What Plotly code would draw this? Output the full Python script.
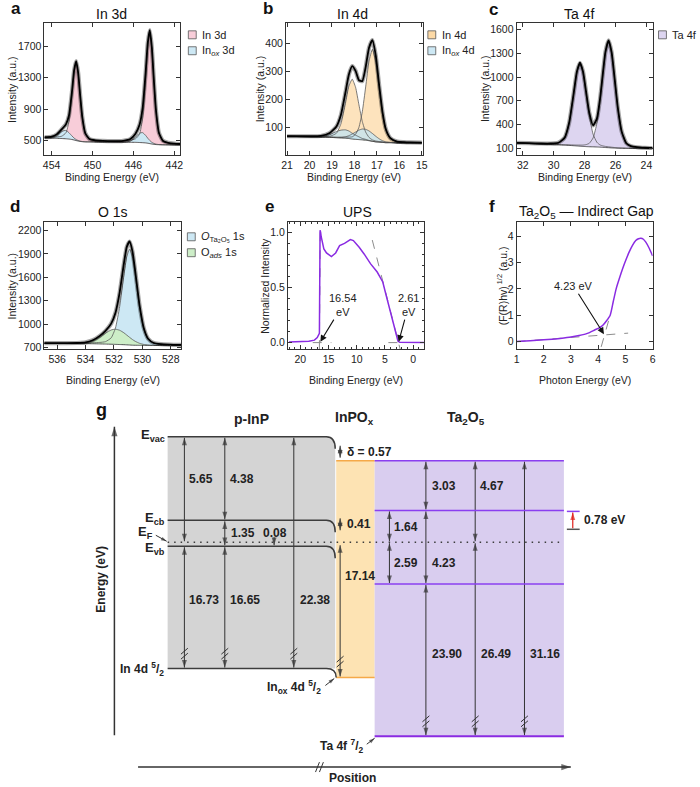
import plotly.graph_objects as go

FONT = "Liberation Sans, Arial, Helvetica, sans-serif"
W, H = 700, 787

# ============================== DATA ==============================
# (a) In 3d core level (binding energy, eV / intensity, a.u.)
a_be = [454.7, 454.0, 453.5, 453.0, 452.6, 452.3, 452.0, 451.8, 451.6, 451.4,
        451.2, 451.0, 450.7, 450.3, 449.8, 449.0, 448.0, 447.0, 446.3, 445.8,
        445.4, 445.1, 444.8, 444.6, 444.4, 444.2, 444.0, 443.8, 443.5, 443.1,
        442.6, 442.0, 441.4]
a_bg = [530, 528, 526, 523, 520, 516, 510, 504, 497, 491,
        486, 483, 481, 480, 479, 478, 477, 476, 475, 474,
        472, 470, 467, 463, 458, 453, 449, 446, 444, 443,
        442, 442, 442]
a_in3d = [8, 11, 17, 30, 76, 221, 575, 863, 1002, 864,
          576, 315, 107, 38, 22, 15, 12, 17, 26, 45,
          107, 312, 810, 1215, 1410, 1215, 810, 442, 148, 49,
          27, 16, 11]
a_inox = [1, 7, 33, 90, 108, 80, 45, 25, 13, 7,
          4, 2, 0, 0, 0, 0, 0, 1, 15, 65,
          120, 128, 95, 65, 40, 22, 12, 6, 2, 0,
          0, 0, 0]

# (b) In 4d
b_be = [21.0, 20.5, 20.0, 19.5, 19.1, 18.8, 18.6, 18.4, 18.25, 18.1,
        17.95, 17.8, 17.65, 17.5, 17.35, 17.2, 17.05, 16.9, 16.75, 16.6,
        16.4, 16.1, 15.8, 15.5, 15.0]
b_bg = [68, 67, 66, 65, 64, 63, 62, 61, 60, 58,
        57, 56, 55, 54, 52, 50, 48, 47, 46, 45,
        45, 44, 44, 44, 44]
b_in4d_32 = [0, 1, 1, 2, 4, 16, 51, 125, 187, 215,
             187, 125, 66, 29, 12, 5, 3, 2, 2, 1,
             1, 1, 0, 0, 0]
b_in4d_52 = [0, 0, 1, 1, 2, 2, 3, 4, 5, 8,
             18, 44, 101, 191, 286, 330, 286, 191, 101, 44,
             14, 4, 3, 2, 1]
b_inox_1 = [0, 0, 0, 1, 10, 22, 28, 30, 27, 21,
            15, 10, 5, 3, 1, 0, 0, 0, 0, 0,
            0, 0, 0, 0, 0]
b_inox_2 = [0, 0, 0, 0, 0, 0, 1, 5, 10, 18,
            26, 34, 39, 39, 35, 28, 20, 12, 6, 3,
            1, 0, 0, 0, 0]

# (c) Ta 4f
c_be = [32.4, 31.6, 30.8, 30.2, 29.7, 29.3, 29.0, 28.7, 28.5, 28.3,
        28.1, 27.9, 27.7, 27.45, 27.2, 27.0, 26.8, 26.65, 26.45, 26.25,
        26.05, 25.85, 25.6, 25.3, 25.0, 24.6, 24.1, 23.6]
c_bg = [165, 158, 151, 146, 142, 139, 136, 132, 129, 126,
        123, 121, 119, 118, 116, 114, 111, 109, 107, 104,
        102, 100, 99, 98, 97, 96, 95, 95]
c_ta4f_52 = [2, 4, 6, 10, 22, 86, 280, 662, 926, 1040,
             926, 662, 390, 159, 58, 28, 18, 14, 11, 9,
             7, 6, 5, 4, 4, 3, 2, 2]
c_ta4f_72 = [1, 2, 3, 4, 5, 6, 7, 9, 11, 14,
             17, 25, 43, 112, 303, 585, 949, 1197, 1345, 1197,
             857, 504, 206, 61, 26, 14, 9, 6]

# (d) O 1s
d_be = [537.0, 536.2, 535.4, 534.6, 534.0, 533.5, 533.0, 532.6, 532.2, 531.9,
        531.6, 531.3, 531.1, 530.9, 530.7, 530.5, 530.2, 529.9, 529.6, 529.2,
        528.7, 528.1, 527.1]
d_bg = [752, 751, 750, 749, 748, 747, 745, 743, 741, 739,
        737, 735, 733, 731, 729, 728, 727, 726, 726, 725,
        725, 725, 725]
d_o_ta2o5 = [2, 3, 5, 7, 8, 12, 19, 31, 81, 208,
             487, 893, 1132, 1230, 1132, 893, 487, 208, 81, 31,
             17, 11, 6]
d_o_ads = [0, 0, 0, 1, 9, 33, 84, 139, 183, 195,
           183, 152, 125, 98, 72, 50, 26, 12, 5, 1,
           0, 0, 0]

# (e) UPS
e_be = [22.0, 20.0, 18.5, 17.5, 17.0, 16.62, 16.5, 16.4, 16.3, 16.1,
        15.83, 15.36, 14.49, 13.74, 13.04, 12.17, 11.13, 10.6, 9.57, 8.7,
        7.54, 6.38, 5.39, 4.9, 4.47, 4.0, 3.48, 3.0, 2.7, 2.4,
        1.0, -1.9]
e_int = [0.005, 0.008, 0.012, 0.022, 0.045, 0.085, 1.02, 1.0, 0.96, 0.9,
         0.85, 0.813, 0.78, 0.813, 0.879, 0.90, 0.934, 0.925, 0.865, 0.804,
         0.714, 0.64, 0.55, 0.45, 0.37, 0.27, 0.17, 0.07, 0.015, 0.003,
         0.0, 0.0]
e_cutoff = [16.54, 2.61]
e_sec_edge_be = [16.62, 16.47]
e_sec_edge_int = [-0.06, 1.0]
e_sec_base_be = [17.8, 14.5]
e_vb_edge_be = [7.25, 2.3]
e_vb_edge_int = [0.93, -0.062]
e_vb_base_be = [4.4, 1.2]
e_base_int = [0.0, 0.0]

# (f) Ta2O5 Tauc plot (indirect)
f_hv = [1.0, 1.5, 2.0, 2.3, 2.6, 3.0, 3.3, 3.6, 3.87, 4.05,
        4.18, 4.3, 4.44, 4.55, 4.66, 4.78, 4.9, 5.02, 5.14, 5.26,
        5.38, 5.48, 5.57, 5.66, 5.75, 5.87, 6.0]
f_y = [0.0, 0.03, 0.07, 0.09, 0.12, 0.17, 0.23, 0.31, 0.44, 0.53,
       0.63, 0.78, 1.0, 1.5, 2.0, 2.4, 2.77, 3.1, 3.4, 3.65,
       3.83, 3.9, 3.92, 3.88, 3.77, 3.55, 3.25]
f_base_hv = [1.0, 5.1]
f_base_y = [0.0, 0.32]
f_edge_hv = [4.11, 4.47]
f_edge_y = [-0.2, 1.11]
f_gap = 4.23
f_gap_y = 0.25

# tick values
a_xt, a_yt = [454, 450, 446, 442], [500, 900, 1300, 1700]
b_xt, b_yt = [21, 20, 19, 18, 17, 16, 15], [100, 200, 300, 400]
c_xt, c_yt = [32, 30, 28, 26, 24], [100, 400, 700, 1000, 1300, 1600]
d_xt, d_yt = [536, 534, 532, 530, 528], [700, 1000, 1300, 1600, 1900, 2200]
e_xt, e_yt = [20, 15, 10, 5, 0], [0.0, 0.5, 1.0]
f_xt, f_yt = [1, 2, 3, 4, 5, 6], [0, 1, 2, 3, 4]

# (g) energy-level diagram values (eV)
g_inp_values = [5.65, 4.38, 1.35, 0.08, 16.73, 16.65, 22.38]
g_inpox_values = [0.57, 0.41, 17.14]
g_ta2o5_values = [3.03, 4.67, 1.64, 2.59, 4.23, 23.90, 26.49, 31.16]
g_offset = 0.78

# ============================== STYLE / LAYOUT ==============================
PINK = '#f8cdd9'
BLUE = '#cde8f4'
ORANGE = '#fde3bd'
ORANGE_L = '#fcd9a6'
BLUE_A = 'rgba(196,228,240,0.8)'
LAV = '#ddd5f0'
GREEN = '#cdeec8'
PURPLE = '#8a2be2'

PANEL_BOX = {1: (40, 178, 23, 156), 2: (285, 424, 23, 156), 3: (519, 657, 23, 156),
             4: (40, 179, 223, 351), 5: (287, 425, 223, 351), 6: (519, 657, 223, 351)}
PANEL_RANGE = {1: ([454.7, 441.4], [310, 2000]), 2: ([21.05, 14.95], [0, 475]),
               3: ([32.4, 23.6], [12, 1684]), 4: ([536.9, 527.25], [677, 2311]),
               5: ([22.2, -1.9], [-0.06, 1.095]), 6: ([1, 6], [-0.29, 4.54])}
PANEL_TICKS = {1: (a_xt, a_yt), 2: (b_xt, b_yt), 3: (c_xt, c_yt),
               4: (d_xt, d_yt), 5: (e_xt, e_yt), 6: (f_xt, f_yt)}

fig = go.Figure()
shapes = []
anns = []


def ax_id(n):
    return ('x' if n == 1 else f'x{n}', 'y' if n == 1 else f'y{n}')


def xps_panel(n, be, bg, comps, fills):
    xa, ya = ax_id(n)
    common = dict(xaxis=xa, yaxis=ya, mode='lines', showlegend=False, hoverinfo='skip')
    sp = dict(shape='spline', smoothing=0.5)
    tops = [[b + c for b, c in zip(bg, comp)] for comp in comps]
    for top, fc in zip(tops, fills):
        fig.add_trace(go.Scatter(x=be, y=bg, line=dict(width=0, **sp), **common))
        fig.add_trace(go.Scatter(x=be, y=top, fill='tonexty', fillcolor=fc,
                                 line=dict(width=0, **sp), **common))
    for top in tops:
        fig.add_trace(go.Scatter(x=be, y=top, line=dict(color='#5a5a5a', width=0.8, **sp), **common))
    fig.add_trace(go.Scatter(x=be, y=bg, line=dict(color='#444', width=0.9, **sp), **common))
    env = [b + sum(c[i] for c in comps) for i, b in enumerate(bg)]
    fig.add_trace(go.Scatter(x=be, y=env, line=dict(color='rgba(0,0,0,0.35)', width=4.2, **sp), **common))
    fig.add_trace(go.Scatter(x=be, y=env, line=dict(color='#000', width=1.8, **sp), **common))


xps_panel(1, a_be, a_bg, [a_in3d, a_inox], [PINK, BLUE])
xps_panel(2, b_be, b_bg, [b_in4d_32, b_in4d_52, b_inox_1, b_inox_2], [ORANGE, ORANGE, BLUE_A, BLUE_A])
xps_panel(3, c_be, c_bg, [c_ta4f_52, c_ta4f_72], [LAV, LAV])
xps_panel(4, d_be, d_bg, [d_o_ta2o5, d_o_ads], [BLUE, GREEN])

# (e) UPS
dash = dict(color='#8c8c8c', width=1, dash='dash')
for xs, ys in [(e_sec_edge_be, e_sec_edge_int), (e_sec_base_be, e_base_int),
               (e_vb_edge_be, e_vb_edge_int), (e_vb_base_be, e_base_int)]:
    fig.add_trace(go.Scatter(x=xs, y=ys, xaxis='x5', yaxis='y5', mode='lines', line=dash,
                             showlegend=False, hoverinfo='skip'))
fig.add_trace(go.Scatter(x=e_be, y=e_int, xaxis='x5', yaxis='y5', mode='lines',
                         line=dict(color=PURPLE, width=1.5), showlegend=False, hoverinfo='skip'))

# (f) Tauc
for xs, ys in [(f_base_hv, f_base_y), (f_edge_hv, f_edge_y)]:
    fig.add_trace(go.Scatter(x=xs, y=ys, xaxis='x6', yaxis='y6', mode='lines', line=dash,
                             showlegend=False, hoverinfo='skip'))
fig.add_trace(go.Scatter(x=f_hv, y=f_y, xaxis='x6', yaxis='y6', mode='lines',
                         line=dict(color=PURPLE, width=1.5, shape='spline', smoothing=0.6),
                         showlegend=False, hoverinfo='skip'))

# overlay pixel-space axis for panel g and text
fig.add_trace(go.Scatter(x=[0], y=[0], xaxis='x7', yaxis='y7', mode='markers',
                         marker=dict(opacity=0), showlegend=False, hoverinfo='skip'))

AX_STYLE = dict(showline=True, linecolor='#333', linewidth=1, mirror='ticks', ticks='inside',
                ticklen=4, tickwidth=1, tickcolor='#333', showgrid=False, zeroline=False,
                tickfont=dict(size=10.5, color='#222', family=FONT))
lay = {}
for n, (x0, x1, y0, y1) in PANEL_BOX.items():
    xa, ya = ax_id(n)
    xr, yr = PANEL_RANGE[n]
    xt, yt = PANEL_TICKS[n]
    xk = 'xaxis' if n == 1 else f'xaxis{n}'
    yk = 'yaxis' if n == 1 else f'yaxis{n}'
    lay[xk] = dict(domain=[x0 / W, x1 / W], range=xr, anchor=ya, tickvals=xt, **AX_STYLE)
    lay[yk] = dict(domain=[1 - y1 / H, 1 - y0 / H], range=yr, anchor=xa, tickvals=yt, **AX_STYLE)
lay['yaxis5']['tickformat'] = '.1f'
lay['xaxis5']['minor'] = dict(ticks='inside', ticklen=2, tickcolor='#333', dtick=1, tick0=0)
lay['yaxis5']['minor'] = dict(ticks='inside', ticklen=2, tickcolor='#333', dtick=0.1, tick0=0)
lay['xaxis7'] = dict(domain=[0, 1], range=[0, W], visible=False, anchor='y7', fixedrange=True)
lay['yaxis7'] = dict(domain=[0, 1], range=[H, 0], visible=False, anchor='x7', fixedrange=True)


def label(x, y, s, size=12, bold=True, xa='left', ya='middle', angle=0, color='#222'):
    anns.append(dict(x=x, y=y, xref='x7', yref='y7', text=(f'<b>{s}</b>' if bold else s),
                     showarrow=False, xanchor=xa, yanchor=ya, textangle=angle,
                     font=dict(size=size, color=color, family=FONT)))


def arr(x0, y0, x1, y1, both=False, color='#333', width=1, size=8):
    """Arrow drawn as a line trace with arrow-shaped markers at its end(s)."""
    fig.add_trace(go.Scatter(x=[x0, x1], y=[y0, y1], xaxis='x7', yaxis='y7', mode='lines',
                             line=dict(color=color, width=width), showlegend=False, hoverinfo='skip'))
    heads = [(x0, y0, x1, y1)] + ([(x1, y1, x0, y0)] if both else [])
    for (tx, ty, hx, hy) in heads:
        fig.add_trace(go.Scatter(x=[tx, hx], y=[ty, hy], xaxis='x7', yaxis='y7', mode='markers',
                                 marker=dict(symbol='arrow', size=[0, size], angleref='previous',
                                             color=color, line=dict(width=0)),
                                 showlegend=False, hoverinfo='skip'))


def seg(x0, y0, x1, y1, color='#333', width=1):
    shapes.append(dict(type='line', xref='x7', yref='y7', x0=x0, y0=y0, x1=x1, y1=y1,
                       line=dict(color=color, width=width)))


def brk_v(x, y):
    for dy in (-2.5, 2.5):
        seg(x - 3.5, y + dy + 3, x + 3.5, y + dy - 3)


def brk_h(x, y):
    for dx in (-2, 2):
        seg(x + dx - 2, y + 5, x + dx + 2, y - 5)


def legend_item(x, y, color, text):
    shapes.append(dict(type='rect', xref='x7', yref='y7', x0=x, x1=x + 8, y0=y - 4, y1=y + 4,
                       fillcolor=color, line=dict(color='#555', width=0.8)))
    label(x + 12, y, text, size=11, bold=False)


# ---- panel letters, titles, axis titles, legends (a-f)
for s, x, y in [('a', 11, 9), ('b', 267, 9), ('c', 496, 10), ('d', 10, 208),
                ('e', 268, 208), ('f', 494, 208)]:
    label(x, y, s, size=17, xa='center', color='#111')
for s, x, y in [('In 3d', 108, 14), ('In 4d', 353, 14), ('Ta 4f', 582, 14), ('O 1s', 110, 213),
                ('UPS', 358, 213), ('Ta<sub>2</sub>O<sub>5</sub> — Indirect Gap', 590, 213)]:
    label(x, y, s, size=14, bold=False, xa='center', color='#111')
for n, t in [(1, 'Binding Energy (eV)'), (2, 'Binding Energy (eV)'), (3, 'Binding Energy (eV)'),
             (4, 'Binding Energy (eV)'), (5, 'Binding Energy (eV)'), (6, 'Photon Energy (eV)')]:
    x0, x1, y0, y1 = PANEL_BOX[n]
    label((x0 + x1) / 2, y1 + (22 if n <= 3 else 31), t, size=10.5, bold=False, xa='center')
for n, t, xp in [(1, 'Intensity (a.u.)', 7), (2, 'Intensity (a.u.)', 259), (3, 'Intensity (a.u.)', 487),
                 (4, 'Intensity (a.u.)', 7), (5, 'Normalized Intensity', 263),
                 (6, '(F(R)hv)<sup> 1/2</sup> (a.u.)', 504)]:
    x0, x1, y0, y1 = PANEL_BOX[n]
    label(xp, (y0 + y1) / 2, t, size=10.5, bold=False, xa='center', angle=-90)

legend_item(186, 35, PINK, 'In 3d')
legend_item(186, 51, BLUE, 'In<sub><i>ox</i></sub> 3d')
legend_item(429, 35, ORANGE_L, 'In 4d')
legend_item(429, 51, BLUE, 'In<sub><i>ox</i></sub> 4d')
legend_item(663, 35, LAV, 'Ta 4f')
legend_item(185, 238, BLUE, '<i>O</i><sub>Ta₂O₅</sub> 1s')
legend_item(185, 254, GREEN, 'O<sub><i>ads</i></sub> 1s')

# ---- (e) and (f) annotations in data space
for cut, tx in zip(e_cutoff, [12.5, 0.8]):
    anns.append(dict(x=cut, y=0.0, ax=tx, ay=0.34, xref='x5', yref='y5', axref='x5', ayref='y5',
                     text=f'{cut:.2f}<br>eV', showarrow=True, arrowhead=2, arrowsize=1.2,
                     arrowwidth=1.1, arrowcolor='#111', standoff=1,
                     font=dict(size=11, color='#222', family=FONT)))
anns.append(dict(x=f_gap, y=f_gap_y, ax=3.1, ay=2.1, xref='x6', yref='y6', axref='x6', ayref='y6',
                 text=f'{f_gap:.2f} eV', showarrow=True, arrowhead=2, arrowsize=1.2, arrowwidth=1.1,
                 arrowcolor='#111', standoff=1, font=dict(size=11, color='#222', family=FONT)))

# ---- (g) energy-level diagram (schematic layout constants, pixel space)
GX0, GX1 = 165, 335
OX0, OX1 = 336, 375
TX0, TX1 = 375, 567
Y_VAC, Y_CB, Y_EF, Y_VB, Y_CORE = 439, 523, 545, 549, 672
Y_OX_TOP, Y_OX_CORE = 463, 681
Y_T_TOP, Y_T_CB, Y_T_VB, Y_T_CORE = 463, 513, 587, 740
DARK = '#3c3c3c'

shapes.append(dict(type='path', xref='x7', yref='y7', layer='below',
                   path=f'M{GX0},{Y_VAC} L{GX1-9},{Y_VAC} Q{GX1},{Y_VAC} {GX1},{Y_VAC+13} '
                        f'L{GX1},{Y_CORE} L{GX0},{Y_CORE} Z',
                   fillcolor='#d4d4d4', line=dict(width=0)))
shapes.append(dict(type='rect', xref='x7', yref='y7', layer='below', x0=OX0, x1=OX1,
                   y0=Y_OX_TOP, y1=Y_OX_CORE, fillcolor='#fde3b3', line=dict(width=0)))
shapes.append(dict(type='rect', xref='x7', yref='y7', layer='below', x0=TX0, x1=TX1,
                   y0=Y_T_TOP, y1=Y_T_CORE, fillcolor='#d9cdef', line=dict(width=0)))
for yy in (Y_OX_TOP, Y_OX_CORE):
    seg(OX0, yy, OX1, yy, color='#f5a948', width=1.5)
for yy in (Y_T_TOP, Y_T_CB, Y_T_VB):
    seg(TX0, yy, TX1, yy, color='#8a3ff0', width=1.5)
seg(TX0, Y_T_CORE, TX1, Y_T_CORE, color='#8a2be2', width=2.2)
for yy in (Y_VAC, Y_CB, Y_VB):
    shapes.append(dict(type='path', xref='x7', yref='y7',
                       path=f'M{GX0},{yy} L{GX1-9},{yy} Q{GX1},{yy} {GX1},{yy+12}',
                       line=dict(color=DARK, width=1.5)))
shapes.append(dict(type='path', xref='x7', yref='y7',
                   path=f'M{GX0},{Y_CORE} L{GX1-9},{Y_CORE} Q{GX1+1},{Y_CORE} {GX1+1},{Y_OX_CORE}',
                   line=dict(color=DARK, width=1.5)))
shapes.append(dict(type='line', xref='x7', yref='y7', x0=GX0, x1=TX1, y0=Y_EF, y1=Y_EF,
                   line=dict(color=DARK, width=1.6, dash='1.5px,5px')))

# vertical double arrows
for x, y0, y1 in [(182, Y_VAC, Y_EF), (182, Y_VB, Y_CORE), (223, Y_VAC, Y_CB), (223, Y_CB, Y_VB),
                  (223, Y_VB, Y_CORE), (293, Y_VAC, Y_CORE), (340, 447, 461), (340, 520, 534),
                  (340, Y_EF + 2, Y_OX_CORE), (390, Y_T_CB, Y_EF), (390, Y_EF, Y_T_VB),
                  (427, Y_T_TOP, Y_T_CB), (427, Y_T_CB, Y_T_VB), (427, Y_T_VB, Y_T_CORE),
                  (477, Y_T_TOP, Y_EF), (477, Y_EF, Y_T_CORE), (527, Y_T_TOP, Y_T_CORE)]:
    arr(x, y0 + 1, x, y1 - 1, both=True)
arr(273, 540, 273, Y_VB - 1)
for x in (182, 223, 293):
    brk_v(x, 657)
brk_v(340, 665)
for x in (427, 477, 527):
    brk_v(x, 725)

# band offset marker
seg(570, Y_T_CB + 1, 583, Y_T_CB + 1, color='#8a3ff0', width=1.5)
seg(570, 532, 583, 532, color='#555', width=1.5)
arr(576, 531, 576, Y_T_CB + 2, color='#e0201b', width=1.2)
label(585, 523, f'{g_offset:.2f} eV', size=12)

# axes of the diagram
arr(111, 739, 111, 429, width=1.5, size=10)
arr(135, 771, 574, 771, width=1.5, size=10)
brk_h(319, 771)
label(97, 582, 'Energy (eV)', size=12, xa='center', angle=-90)
label(353, 782, 'Position', size=12, xa='center')
label(98, 412, 'g', size=18, xa='center', color='#111')

# headers & level names
label(250, 421, 'p-InP', size=14, xa='center')
label(355, 420, 'InPO<sub>x</sub>', size=14, xa='center')
label(468, 420, 'Ta<sub>2</sub>O<sub>5</sub>', size=14, xa='center')
label(164, 438, 'E<sub>vac</sub>', size=13, xa='right')
label(164, 521, 'E<sub>cb</sub>', size=13, xa='right')
label(152, 535, 'E<sub>F</sub>', size=13, xa='right')
arr(153, 538, 164, 544, size=6)
label(164, 551, 'E<sub>vb</sub>', size=13, xa='right')
label(163, 672, 'In 4d <sup>5</sup>/<sub>2</sub>', size=12, xa='right')
label(323, 691, 'In<sub>ox</sub> 4d <sup>5</sup>/<sub>2</sub>', size=12, xa='right')
arr(325, 689, 334, 682, size=6)
label(365, 750, 'Ta 4f <sup>7</sup>/<sub>2</sub>', size=12, xa='right')
arr(367, 748, 375, 742, size=6)

# value labels
G_INP_POS = [(185, 481, 'left'), (226, 481, 'left'), (227, 536, 'left'), (274, 536, 'center'),
             (185, 603, 'left'), (226, 603, 'left'), (297, 603, 'left')]
for v, (x, y, a) in zip(g_inp_values, G_INP_POS):
    label(x, y, f'{v:.2f}', size=12, xa=a)
G_OX_POS = [(345, 454), (345, 527), (343, 579)]
for i, (v, (x, y)) in enumerate(zip(g_inpox_values, G_OX_POS)):
    label(x, y, (f'δ = {v:.2f}' if i == 0 else f'{v:.2f}'), size=12)
G_TA_POS = [(431, 488), (480, 488), (393, 530), (393, 566), (431, 566),
            (431, 657), (481, 657), (531, 657)]
for v, (x, y) in zip(g_ta2o5_values, G_TA_POS):
    label(x, y, f'{v:.2f}', size=12)

fig.update_layout(width=W, height=H, margin=dict(l=0, r=0, t=0, b=0),
                  paper_bgcolor='white', plot_bgcolor='rgba(0,0,0,0)',
                  font=dict(family=FONT, color='#222'), showlegend=False,
                  shapes=shapes, annotations=anns, **lay)
fig.write_html("out.html")
